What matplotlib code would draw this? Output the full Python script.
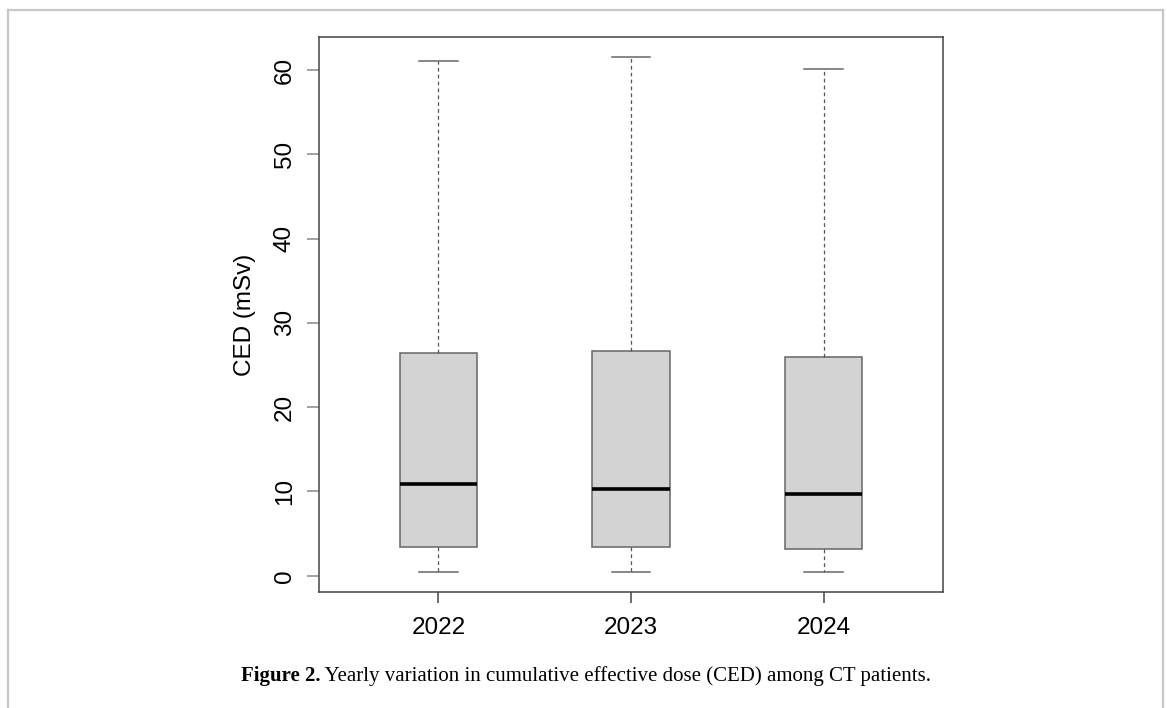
import matplotlib
matplotlib.use("Agg")
import matplotlib.pyplot as plt
from matplotlib.lines import Line2D

# yearly CED box stats (mSv)
years = ["2022", "2023", "2024"]
whislo = [0.44, 0.44, 0.44]
q1 = [3.37, 3.35, 3.2]
med = [10.92, 10.25, 9.66]
q3 = [26.39, 26.63, 25.98]
whishi = [61.03, 61.5, 60.12]
yticks = [0, 10, 20, 30, 40, 50, 60]

W, H = 1167, 708
fig = plt.figure(figsize=(W / 100, H / 100), dpi=100)

# page frame around the figure
frame_c = "#c8c8c8"
for xs, ys in [([8, 8], [0, 10]), ([8, 1163], [10, 10]), ([1163, 1163], [10, 0])]:
    fig.add_artist(Line2D([x / W for x in xs], [1 - y / H if y else 0 for y in ys],
                          color=frame_c, lw=1.6, transform=fig.transFigure))

ax = fig.add_axes([319 / W, 1 - 592.3 / H, (943 - 319) / W, (592.3 - 37.3) / H])

stats = []
for i in range(len(years)):
    stats.append(dict(whislo=whislo[i], q1=q1[i], med=med[i], q3=q3[i],
                      whishi=whishi[i], fliers=[], label=years[i]))

ax.bxp(stats, positions=[1, 2, 3], widths=0.4, patch_artist=True, showfliers=False,
       boxprops=dict(facecolor="#d3d3d3", edgecolor="#666666", lw=1.1),
       medianprops=dict(color="black", lw=2.6, solid_capstyle="butt"),
       whiskerprops=dict(color="#555555", lw=0.9, linestyle=(0, (3, 2.5))),
       capprops=dict(color="#666666", lw=1.1), capwidths=0.2)

ax.set_xlim(0.38, 3.62)
ax.set_ylim(-1.97, 63.88)
ax.set_yticks(yticks)
ax.set_yticklabels([str(t) for t in yticks], rotation=90, va="center")

for s in ax.spines.values():
    s.set_color("#444444")
    s.set_linewidth(1.1)

ax.tick_params(axis="y", length=8.6, width=1.1, color="#888888", pad=8,
               labelsize=17.5)
ax.tick_params(axis="x", length=8, width=1.1, color="#444444", pad=10,
               labelsize=17.5)
for lab in ax.get_xticklabels() + ax.get_yticklabels():
    lab.set_fontfamily("Liberation Sans")

ax.set_ylabel("CED (mSv)", fontsize=17.5, family="Liberation Sans", labelpad=13)

# caption: bold "Figure 2." followed by regular text
fig.canvas.draw()
r = fig.canvas.get_renderer()
cap_y = 1 - 676 / H
t1 = fig.text(0, cap_y, "Figure 2.", fontsize=15, fontweight="bold",
              family="Liberation Serif", va="center")
t2 = fig.text(0, cap_y, " Yearly variation in cumulative effective dose (CED) among CT patients.",
              fontsize=15, family="Liberation Serif", va="center")
w1 = t1.get_window_extent(r).width
w2 = t2.get_window_extent(r).width
x0 = 586 - (w1 + w2) / 2
t1.set_x(x0 / W)
t2.set_x((x0 + w1) / W)

fig.savefig("out.png", dpi=100)
